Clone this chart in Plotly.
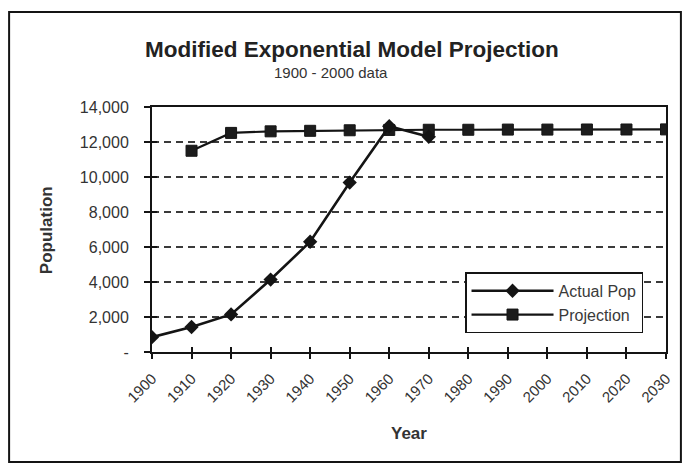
import plotly.graph_objects as go

# Census years and population counts
actual_years = [1900, 1910, 1920, 1930, 1940, 1950, 1960, 1970]
actual_pop = [850, 1430, 2150, 4140, 6300, 9680, 12900, 12300]

# Modified exponential model fitted to 1900-2000 data, projected to 2030
proj_years = [1910, 1920, 1930, 1940, 1950, 1960, 1970, 1980, 1990, 2000, 2010, 2020, 2030]
proj_pop = [11500, 12520, 12610, 12640, 12670, 12690, 12700, 12700, 12710, 12710, 12715, 12715, 12720]

year_ticks = list(range(1900, 2031, 10))
pop_ticks = list(range(0, 14001, 2000))
pop_labels = ["-"] + [f"{v:,}" for v in pop_ticks[1:]]

FONT = "Liberation Sans, Arial, sans-serif"
INK = "#141414"
TEXT = "#333333"

fig = go.Figure()

fig.add_trace(go.Scatter(
    x=proj_years, y=proj_pop, name="Projection", mode="lines+markers",
    line=dict(color=INK, width=2.2),
    marker=dict(symbol="square", size=11, color="#1c1c1c", line=dict(color=INK, width=1)),
))

fig.add_trace(go.Scatter(
    x=actual_years, y=actual_pop, name="Actual Pop", mode="lines+markers",
    xaxis="x2", yaxis="y2",
    line=dict(color=INK, width=2.6),
    marker=dict(symbol="diamond", size=11, color=INK),
))

axis_common = dict(showline=True, linecolor=INK, linewidth=2, zeroline=False)

fig.update_layout(
    width=685, height=467,
    margin=dict(l=152, r=19, t=107, b=115),
    paper_bgcolor="white", plot_bgcolor="white",
    font=dict(family=FONT, color=INK),
    showlegend=True,
    legend=dict(
        x=0.609, y=0.325, xanchor="left", yanchor="top",
        bgcolor="white", bordercolor=INK, borderwidth=1.5,
        font=dict(size=16, family=FONT, color="#3a3a3a"),
        traceorder="reversed", itemwidth=82,
        tracegroupgap=0,
    ),
    xaxis=dict(
        range=[1900, 2030], tickvals=year_ticks, ticktext=[str(y) for y in year_ticks],
        tickangle=-45, ticks="outside", ticklen=5, tickwidth=1.5, tickcolor=INK,
        ticklabelstandoff=5,
        tickfont=dict(size=15, color=TEXT), showgrid=False, mirror=True,
        **axis_common,
    ),
    yaxis=dict(
        range=[0, 14000], tickvals=pop_ticks, ticktext=pop_labels,
        ticks="outside", ticklen=6, tickwidth=1.5, tickcolor=INK,
        ticklabelstandoff=12,
        tickfont=dict(size=16, color=TEXT), mirror=True,
        showgrid=True, gridcolor="#3a3a3a", gridwidth=1.5, griddash="7px,5px",
        **axis_common,
    ),
    # overlay axes carry the inward half of the crossing tick marks
    xaxis2=dict(
        range=[1900, 2030], tickvals=year_ticks, overlaying="x", anchor="y",
        ticks="inside", ticklen=5, tickwidth=1.5, tickcolor=INK,
        showticklabels=False, showgrid=False, zeroline=False, showline=False,
    ),
    yaxis2=dict(
        range=[0, 14000], tickvals=pop_ticks, overlaying="y", anchor="x", side="left",
        ticks="inside", ticklen=5, tickwidth=1.5, tickcolor=INK,
        showticklabels=False, showgrid=False, zeroline=False, showline=False,
    ),
)

# outer chart frame
fig.add_shape(type="rect", xref="paper", yref="paper",
              x0=-0.278, x1=1.029, y0=-0.449, y1=1.388,
              line=dict(color=INK, width=2), fillcolor="rgba(0,0,0,0)", layer="below")

label_common = dict(xref="paper", yref="paper", showarrow=False,
                    xanchor="center", yanchor="middle")
fig.add_annotation(text="<b>Modified Exponential Model Projection</b>",
                   x=0.389, y=1.233, font=dict(size=22.5, color="#222"), **label_common)
fig.add_annotation(text="1900 - 2000 data",
                   x=0.348, y=1.139, font=dict(size=15, color=TEXT), **label_common)
fig.add_annotation(text="<b>Population</b>",
                   x=-0.204, y=0.498, textangle=-90,
                   font=dict(size=17, color=TEXT), **label_common)
fig.add_annotation(text="<b>Year</b>",
                   x=0.5, y=-0.331, font=dict(size=17, color=TEXT), **label_common)

fig.write_html("out.html")
